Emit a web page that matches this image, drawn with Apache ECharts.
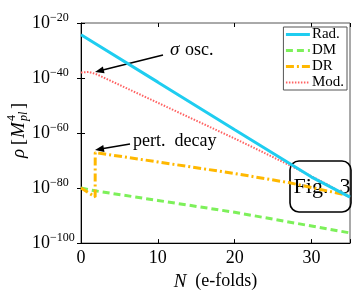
<!DOCTYPE html>
<html>
<head>
<meta charset="utf-8">
<script src="https://cdn.jsdelivr.net/npm/echarts@6/dist/echarts.min.js"></script>
<style>
html,body{margin:0;padding:0;background:#fff;}
#c{width:358px;height:296px;}
</style>
</head>
<body>
<div id="c"></div>
<script>
// N (e-folds) and log10(rho) values
var radN = [0, 10, 20, 30, 35];
var radV = [-24.3, -41.5, -58.8, -76.0, -83.3];
var dmN = [0, 1.84, 10, 20, 30, 35];
var dmV = [-80.0, -81.0, -84.5, -88.8, -93.8, -96.3];
var drN = [0, 1.84, 1.85, 10, 20, 27, 35];
var drV = [-80.0, -83.2, -67.1, -70.5, -74.7, -78.0, -82.8];
var modN = [0, 1, 2, 4, 8, 12, 16, 20, 24, 28, 32, 35];
var modV = [-38.0, -37.8, -38.6, -41.2, -46.4, -51.6, -56.8, -62.0, -67.4, -72.9, -78.6, -83.5];
var xTicks = [0, 10, 20, 30];
var yTicks = [-100, -80, -60, -40, -20];
var names = ['Rad.', 'DM', 'DR', 'Mod.'];

function pairs(xs, ys){ return xs.map(function(x,i){ return [x, ys[i]]; }); }

var SERIF = 'Liberation Serif';
var chart = echarts.init(document.getElementById('c'), null, {renderer:'canvas'});

function arrow(x1,y1,x2,y2){
  var dx=x2-x1, dy=y2-y1, L=Math.sqrt(dx*dx+dy*dy), ux=dx/L, uy=dy/L;
  var hl=9, hw=3.5;
  var bx=x2-ux*hl, by=y2-uy*hl;
  return [
    {type:'line', shape:{x1:x1,y1:y1,x2:bx+ux*2,y2:by+uy*2}, style:{stroke:'#000', lineWidth:1.6}},
    {type:'polygon', shape:{points:[[x2,y2],[bx-uy*hw,by+ux*hw],[bx+uy*hw,by-ux*hw]]}, style:{fill:'#000'}}
  ];
}

var graphics = [];
graphics = graphics.concat(arrow(163,55,95,72));
graphics = graphics.concat(arrow(130,144,95,150));
graphics.push({type:'text', x:170, y:50, style:{text:'σ', font:'italic 19px "Liberation Serif"', fill:'#000', textVerticalAlign:'middle'}});
graphics.push({type:'text', x:185, y:50, style:{text:'osc.', font:'18px "Liberation Serif"', fill:'#000', textVerticalAlign:'middle'}});
graphics.push({type:'text', x:133, y:141, style:{text:'pert.  decay', font:'18px "Liberation Serif"', fill:'#000', textVerticalAlign:'middle'}});
graphics.push({type:'rect', shape:{x:290, y:161, width:61, height:51, r:9}, style:{fill:'none', stroke:'#000', lineWidth:1.6}});
graphics.push({type:'text', x:322, y:187, style:{text:'Fig.  3', font:'22px "Liberation Serif"', fill:'#000', textAlign:'center', textVerticalAlign:'middle'}});
// y-axis title
graphics.push({type:'group', x:19, y:129, rotation:Math.PI/2, children:[
  {type:'text', x:-29, y:0, style:{text:'ρ', font:'italic 19px "Liberation Serif"', fill:'#000', textVerticalAlign:'middle'}},
  {type:'text', x:-16, y:0, style:{text:'[', font:'18px "Liberation Serif"', fill:'#000', textVerticalAlign:'middle'}},
  {type:'text', x:-9, y:0, style:{text:'M', font:'italic 19px "Liberation Serif"', fill:'#000', textVerticalAlign:'middle'}},
  {type:'text', x:8, y:-7, style:{text:'4', font:'12px "Liberation Serif"', fill:'#000', textVerticalAlign:'middle'}},
  {type:'text', x:8, y:5, style:{text:'pl', font:'italic 12px "Liberation Serif"', fill:'#000', textVerticalAlign:'middle'}},
  {type:'text', x:20, y:0, style:{text:']', font:'18px "Liberation Serif"', fill:'#000', textVerticalAlign:'middle'}}
]});

var tickCommon = {show:true, inside:true, length:4, lineStyle:{color:'#000', width:1}};
var legendWidths = [3, 3, 3, 2];

var option = {
  animation:false,
  backgroundColor:'#fff',
  grid:{left:81, right:8, top:23, bottom:50, show:true, borderColor:'#555', borderWidth:1, containLabel:false},
  legend:{
    orient:'vertical', right:11, top:27,
    data:names.map(function(n,i){ return {name:n, lineStyle:{width:legendWidths[i]}}; }),
    itemWidth:24, itemHeight:10, itemGap:1,
    padding:[0,3,0,1],
    itemStyle:{opacity:0},
    backgroundColor:'#fff', borderColor:'#555', borderWidth:1, borderRadius:0,
    textStyle:{fontFamily:SERIF, fontSize:15, color:'#000', lineHeight:14, padding:[0,0,0,-3]}
  },
  xAxis:[{
    type:'value', min:0, max:35, interval:10, position:'bottom',
    axisLine:{show:true, lineStyle:{color:'#000', width:1}},
    axisTick:tickCommon, splitLine:{show:false},
    axisLabel:{fontFamily:SERIF, fontSize:18, color:'#000', margin:6,
      formatter:function(v){ return xTicks.indexOf(v)>=0 ? String(v) : ''; }},
    name:'{i|N}{t|  (e-folds)}', nameLocation:'middle', nameGap:27,
    nameTextStyle:{rich:{i:{fontFamily:SERIF, fontStyle:'italic', fontSize:19, color:'#000'}, t:{fontFamily:SERIF, fontSize:18, color:'#000'}}}
  },{
    type:'value', min:0, max:35, interval:10, position:'top',
    axisLine:{show:false}, axisTick:tickCommon, axisLabel:{show:false}, splitLine:{show:false}
  }],
  yAxis:[{
    type:'value', min:-100, max:-20, interval:20, position:'left',
    axisLine:{show:true, lineStyle:{color:'#000', width:1}},
    axisTick:tickCommon, splitLine:{show:false},
    axisLabel:{margin:49, align:'left', color:'#000',
      formatter:function(v){ return yTicks.indexOf(v)>=0 ? '{b|10}{s|\u2212' + Math.abs(v) + '}' : ''; },
      rich:{b:{fontFamily:SERIF, fontSize:18, color:'#000'}, s:{fontFamily:SERIF, fontSize:12, color:'#000', padding:[0,0,11,0]}}
    }
  },{
    type:'value', min:-100, max:-20, interval:20, position:'right',
    axisLine:{show:false}, axisTick:tickCommon, axisLabel:{show:false}, splitLine:{show:false}
  }],
  series:[
    {name:'Rad.', type:'line', data:pairs(radN, radV), showSymbol:false, symbol:'none', z:4,
      lineStyle:{color:'#1fcdf0', width:3}, itemStyle:{color:'#1fcdf0'}},
    {name:'DM', type:'line', data:pairs(dmN, dmV), showSymbol:false, symbol:'none', z:3,
      lineStyle:{color:'#7df05a', width:3, type:[7,4]}, itemStyle:{color:'#7df05a'}},
    {name:'DR', type:'line', data:pairs(drN, drV), showSymbol:false, symbol:'none', z:3,
      lineStyle:{color:'#ffb800', width:3, type:[8,3,2,3]}, itemStyle:{color:'#ffb800'}},
    {name:'Mod.', type:'line', data:pairs(modN, modV), showSymbol:false, symbol:'none', z:3,
      lineStyle:{color:'#ff6262', width:2, type:[1.5,1.5]}, itemStyle:{color:'#ff6262'}}
  ],
  graphic:graphics
};
chart.setOption(option);
</script>
</body>
</html>
